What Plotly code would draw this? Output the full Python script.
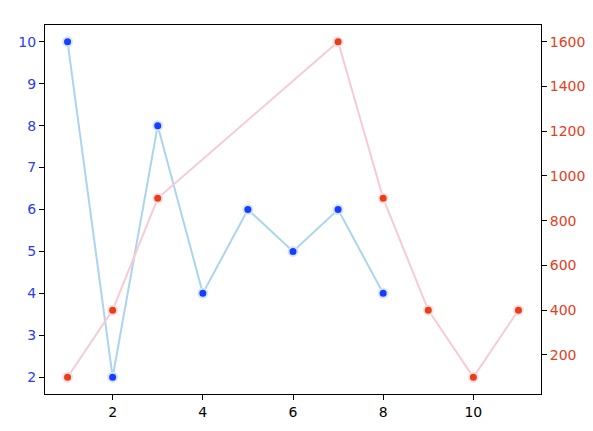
import plotly.graph_objects as go

x_blue = [1, 2, 3, 4, 5, 6, 7, 8]
y_blue = [10, 2, 8, 4, 6, 5, 6, 4]
x_red = [1, 2, 3, 7, 8, 9, 10, 11]
y_red = [100, 400, 900, 1600, 900, 400, 100, 400]

left_ticks = [2, 3, 4, 5, 6, 7, 8, 9, 10]
right_ticks = [200, 400, 600, 800, 1000, 1200, 1400, 1600]
x_ticks = [2, 4, 6, 8, 10]

BLUE_TXT = "#2a3cf5"
RED_TXT = "#e2401c"

fig = go.Figure()
fig.add_trace(go.Scatter(
    x=x_blue, y=y_blue, mode="lines+markers",
    line=dict(color="#acd4ee", width=2),
    marker=dict(color="#1a3cff", size=9, line=dict(color="#d3e6f7", width=2)),
    showlegend=False, yaxis="y"))
fig.add_trace(go.Scatter(
    x=x_red, y=y_red, mode="lines+markers",
    line=dict(color="#f6cbd3", width=2),
    marker=dict(color="#e5401a", size=9, line=dict(color="#fadde2", width=2)),
    showlegend=False, yaxis="y2"))

font = dict(family="DejaVu Sans", size=14)
fig.update_layout(
    width=593, height=431,
    margin=dict(l=45, r=52, t=25, b=37, autoexpand=False),
    paper_bgcolor="white", plot_bgcolor="white",
    font=font,
    xaxis=dict(range=[0.5, 11.5], tickvals=x_ticks, showgrid=False, zeroline=False,
               ticks="outside", ticklen=5, tickcolor="black", showline=True,
               linecolor="black", linewidth=1, mirror=True, automargin=False,
               tickfont=dict(color="black", size=14)),
    yaxis=dict(range=[1.6, 10.4], tickvals=left_ticks, showgrid=False, zeroline=False,
               ticks="outside", ticklen=5, tickcolor="black", showline=True,
               linecolor="black", linewidth=1, automargin=False,
               tickfont=dict(color=BLUE_TXT, size=14)),
    yaxis2=dict(range=[25, 1675], tickvals=right_ticks, overlaying="y", side="right",
                showgrid=False, zeroline=False, ticks="outside", ticklen=5,
                tickcolor="black", showline=True, linecolor="black", linewidth=1,
                automargin=False,
                tickfont=dict(color=RED_TXT, size=14)),
)
fig.write_html("out.html", config={"displayModeBar": False},
               post_script="document.body.style.margin='0';document.body.style.overflow='hidden';")
